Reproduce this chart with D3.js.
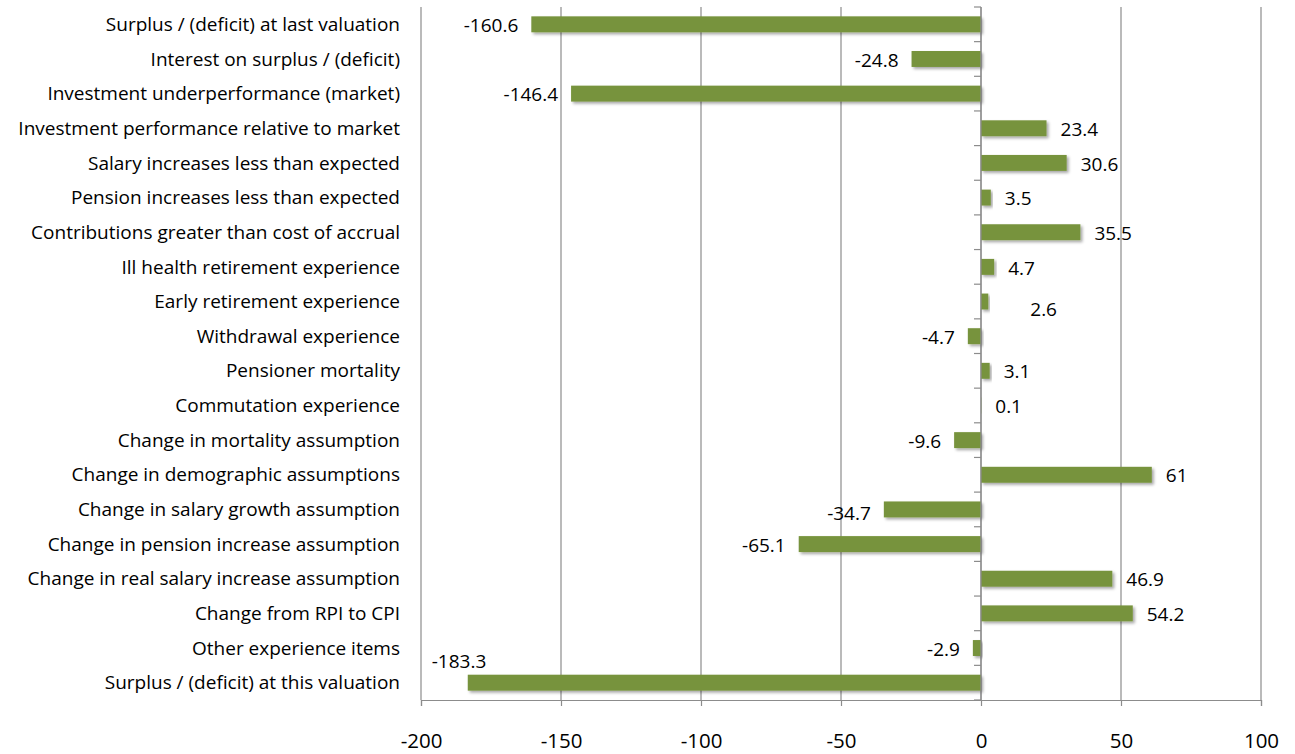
<!DOCTYPE html>
<html><head><meta charset="utf-8">
<script src="https://cdn.jsdelivr.net/npm/d3@7"></script>
<style>body{margin:0;background:#fff}svg{display:block}text{font-family:"Open Sans",sans-serif;fill:#000}</style>
</head><body><svg id="c" width="1295" height="754"></svg>
<script>
const categories = [
"Surplus / (deficit) at last valuation",
"Interest on surplus / (deficit)",
"Investment underperformance (market)",
"Investment performance relative to market",
"Salary increases less than expected",
"Pension increases less than expected",
"Contributions greater than cost of accrual",
"Ill health retirement experience",
"Early retirement experience",
"Withdrawal experience",
"Pensioner mortality",
"Commutation experience",
"Change in mortality assumption",
"Change in demographic assumptions",
"Change in salary growth assumption",
"Change in pension increase assumption",
"Change in real salary increase assumption",
"Change from RPI to CPI",
"Other experience items",
"Surplus / (deficit) at this valuation"];
const values = [-160.6,-24.8,-146.4,23.4,30.6,3.5,35.5,4.7,2.6,-4.7,3.1,0.1,-9.6,61,-34.7,-65.1,46.9,54.2,-2.9,-183.3];
const xTicks = [-200,-150,-100,-50,0,50,100];

// label nudges (manual placement as in the original)
const nudge = {8:{dx:28,dy:7},14:{dx:0,dy:3},19:{above:true}};

const svg = d3.select("#c");
const x = d3.scaleLinear().domain([-200,100]).range([421,1261]);
const y = d3.scaleBand().domain(categories).range([7,700]);
const bh = y.bandwidth()*0.46;
const fmt = d => String(d);

const defs = svg.append("defs");
const f = defs.append("filter").attr("id","sh").attr("x","-10%").attr("y","-50%").attr("width","130%").attr("height","220%");
f.append("feDropShadow").attr("dx",2).attr("dy",2).attr("stdDeviation",1.6).attr("flood-color","#000").attr("flood-opacity",0.35);

// gridlines
svg.append("g").selectAll("line").data(xTicks).join("line")
  .attr("x1",d=>x(d)).attr("x2",d=>x(d)).attr("y1",7).attr("y2",700)
  .attr("stroke","#8c8c8c").attr("stroke-width",1.2);

// bottom axis
const xa = svg.append("g").attr("transform","translate(0,700)")
  .call(d3.axisBottom(x).tickValues(xTicks).tickSize(6).tickPadding(27).tickFormat(fmt));
xa.select(".domain").attr("stroke","#8c8c8c").attr("stroke-width",1.2);
xa.selectAll(".tick line").attr("stroke","#8c8c8c").attr("stroke-width",1.2);
xa.selectAll("text").attr("font-size",20.5).style("font-family","'Open Sans',sans-serif");

// bars
svg.append("g").selectAll("rect").data(values).join("rect")
  .attr("x",d=>x(Math.min(0,d))).attr("width",d=>Math.abs(x(d)-x(0)))
  .attr("y",(d,i)=>y(categories[i])+(y.bandwidth()-bh)/2).attr("height",bh)
  .attr("fill","#77933c").attr("filter","url(#sh)");

// category axis at zero
const ca = svg.append("g");
ca.append("line").attr("x1",x(0)).attr("x2",x(0)).attr("y1",7).attr("y2",700).attr("stroke","#8c8c8c").attr("stroke-width",1.2);
const bounds = categories.map(c=>y(c)).concat([700]);
ca.selectAll("line.t").data(bounds).join("line").attr("class","t")
  .attr("x1",x(0)-7).attr("x2",x(0)).attr("y1",d=>d).attr("y2",d=>d)
  .attr("stroke","#8c8c8c").attr("stroke-width",1.2);

// category labels
svg.append("g").selectAll("text").data(categories).join("text")
  .attr("x",400).attr("y",d=>y(d)+y.bandwidth()/2).attr("dy","0.35em")
  .attr("text-anchor","end").attr("font-size",19).text(d=>d);

// value labels
svg.append("g").selectAll("text").data(values).join("text")
  .each(function(d,i){
    const n = nudge[i]||{};
    const cy = y(categories[i])+y.bandwidth()/2 + 1;
    const t = d3.select(this).attr("font-size",19).attr("dy","0.35em").text(fmt(d));
    if(n.above){
      t.attr("x",x(d)-36).attr("y",cy-22).attr("text-anchor","start");
    } else if(d<0){
      t.attr("x",x(d)-13+(n.dx||0)).attr("y",cy+(n.dy||0)).attr("text-anchor","end");
    } else {
      t.attr("x",x(d)+14+(n.dx||0)).attr("y",cy+(n.dy||0)).attr("text-anchor","start");
    }
  });
</script></body></html>
